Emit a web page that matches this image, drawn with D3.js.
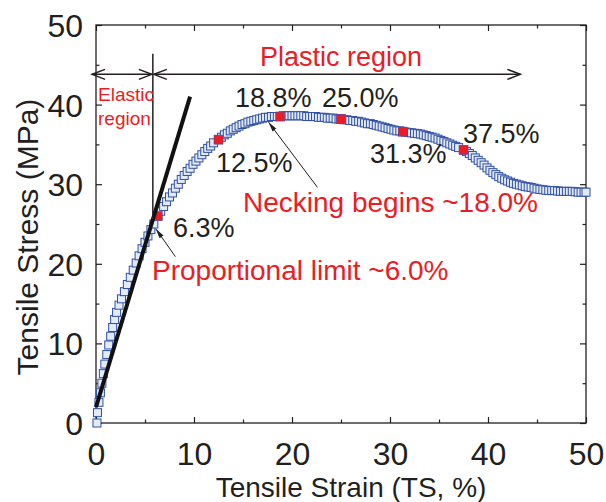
<!DOCTYPE html>
<html>
<head>
<meta charset="utf-8">
<script src="https://cdn.jsdelivr.net/npm/d3@7/dist/d3.min.js"></script>
<style>
  html, body { margin: 0; padding: 0; background: #fff; }
  svg { display: block; font-family: "Liberation Sans", Arial, Helvetica, sans-serif; }
</style>
</head>
<body>
<svg id="chart" width="606" height="502"></svg>
<script>
// Tensile test curve: strain (%) and stress (MPa)
const strain = [0.1, 0.15, 0.3, 0.45, 0.6, 0.75, 0.9, 1.1, 1.3, 1.5, 1.7, 1.9, 2.1, 2.35, 2.6, 2.9, 3.2, 3.5, 3.8, 4.1,
  4.4, 4.7, 5.0, 5.3, 5.6, 5.9, 6.3, 6.6, 6.9, 7.2, 7.5, 7.8, 8.1, 8.4, 8.7, 9.0, 9.3, 9.6, 9.9, 10.2,
  10.5, 10.8, 11.1, 11.4, 11.7, 12.0, 12.5, 12.8, 13.1, 13.4, 13.7, 14.0, 14.3, 14.6, 14.9, 15.2, 15.5, 15.8, 16.1, 16.4,
  16.7, 17.0, 17.3, 17.6, 17.9, 18.2, 18.5, 18.8, 19.1, 19.4, 19.7, 20.0, 20.3, 20.6, 20.9, 21.2, 21.5, 21.8, 22.1, 22.4,
  22.7, 23.0, 23.3, 23.6, 23.9, 24.2, 24.5, 24.8, 25.0, 25.3, 25.6, 25.9, 26.2, 26.5, 26.8, 27.1, 27.4, 27.7, 28.0, 28.3,
  28.6, 28.9, 29.2, 29.5, 29.8, 30.1, 30.4, 30.7, 31.0, 31.3, 31.6, 31.9, 32.2, 32.5, 32.8, 33.1, 33.4, 33.7, 34.0, 34.3,
  34.6, 34.9, 35.2, 35.5, 35.8, 36.1, 36.4, 36.7, 37.0, 37.5, 37.8, 38.1, 38.4, 38.7, 39.0, 39.3, 39.6, 39.9, 40.2, 40.5,
  40.8, 41.1, 41.4, 41.7, 42.0, 42.3, 42.6, 42.9, 43.2, 43.5, 43.8, 44.1, 44.4, 44.7, 45.0, 45.3, 45.6, 45.9, 46.2, 46.5,
  46.8, 47.1, 47.4, 47.7, 48.0, 48.3, 48.6, 48.9, 49.2, 49.5, 49.8, 50.0];
const stress = [0.0, 1.3, 2.6, 3.8, 5.0, 6.2, 7.4, 8.6, 9.8, 10.9, 12.0, 13.0, 13.9, 14.8, 15.6, 16.5, 17.4, 18.3, 19.2, 20.1,
  21.0, 21.9, 22.7, 23.5, 24.3, 25.0, 26.0, 26.6, 27.2, 27.8, 28.4, 28.9, 29.5, 30.0, 30.6, 31.1, 31.6, 32.0, 32.5, 32.9,
  33.3, 33.7, 34.1, 34.5, 34.8, 35.2, 35.6, 35.9, 36.2, 36.4, 36.7, 36.9, 37.1, 37.3, 37.5, 37.6, 37.8, 37.9, 38.0, 38.1,
  38.2, 38.3, 38.4, 38.4, 38.5, 38.5, 38.5, 38.5, 38.6, 38.6, 38.6, 38.6, 38.6, 38.6, 38.6, 38.6, 38.5, 38.5, 38.5, 38.5,
  38.4, 38.4, 38.4, 38.3, 38.3, 38.3, 38.2, 38.2, 38.2, 38.1, 38.1, 38.0, 38.0, 37.9, 37.9, 37.8, 37.7, 37.6, 37.6, 37.5,
  37.4, 37.3, 37.2, 37.1, 37.0, 36.9, 36.8, 36.7, 36.7, 36.6, 36.55, 36.5, 36.45, 36.4, 36.35, 36.3, 36.2, 36.1, 36.0, 35.9,
  35.8, 35.65, 35.5, 35.35, 35.2, 35.05, 34.9, 34.75, 34.6, 34.3, 34.1, 33.85, 33.6, 33.3, 33.0, 32.7, 32.4, 32.05, 31.75, 31.45,
  31.2, 30.95, 30.75, 30.55, 30.4, 30.25, 30.1, 30.0, 29.9, 29.8, 29.7, 29.65, 29.6, 29.5, 29.4, 29.35, 29.3, 29.25, 29.2, 29.2,
  29.2, 29.15, 29.1, 29.1, 29.1, 29.1, 29.1, 29.05, 29.0, 29.0, 29.0, 29.0];

// Highlighted sample points
const markStrain = [6.3, 12.5, 18.8, 25.0, 31.3, 37.5];
const markStress = [26.0, 35.6, 38.5, 38.2, 36.6, 34.3];
const markLabels = ["6.3%", "12.5%", "18.8%", "25.0%", "31.3%", "37.5%"];

// Linear fit of the elastic part
const fitStrain = [0.0, 9.6];
const fitStress = [2.0, 41.0];

const xTicks = [0, 10, 20, 30, 40, 50];
const yTicks = [0, 10, 20, 30, 40, 50];

const RED = "#ec1c24";
const INK = "#231f20";

const svg = d3.select("#chart");
const x = d3.scaleLinear().domain([0, 50]).range([96, 586]);
const y = d3.scaleLinear().domain([0, 50]).range([423, 25]);

const defs = svg.append("defs");
defs.append("marker").attr("id", "tip")
  .attr("viewBox", "0 0 10 6").attr("refX", 10).attr("refY", 3)
  .attr("markerWidth", 10).attr("markerHeight", 6).attr("markerUnits", "userSpaceOnUse")
  .attr("orient", "auto")
  .append("path").attr("d", "M0,0.6 L10,3 L0,5.4 Z").attr("fill", INK);

// Axes with inward ticks on all four sides
const minor = d3.range(5, 50, 10);
function tickAxis(axisFn, scale, translate, values, labels) {
  const gMaj = svg.append("g").attr("transform", translate)
    .call(axisFn(scale).tickValues(values).tickSize(-6).tickFormat(labels ? d3.format("d") : ""));
  const gMin = svg.append("g").attr("transform", translate)
    .call(axisFn(scale).tickValues(minor).tickSize(-3.5).tickFormat(""));
  [gMaj, gMin].forEach(g => {
    g.select(".domain").remove();
    g.selectAll(".tick line").attr("stroke", INK).attr("stroke-width", 1.2);
  });
  return gMaj;
}
const gx = tickAxis(d3.axisBottom, x, "translate(0,423)", xTicks, true);
gx.selectAll(".tick text").attr("y", 0).attr("dy", 0)
  .attr("transform", "translate(0,42)")
  .attr("font-size", 32).attr("fill", INK).attr("font-family", "Liberation Sans, Arial, sans-serif");
tickAxis(d3.axisTop, x, "translate(0,25)", xTicks, false);
const gy = tickAxis(d3.axisLeft, y, "translate(96,0)", yTicks, true);
gy.selectAll(".tick text").attr("x", -13).attr("dy", "0.36em")
  .attr("font-size", 32).attr("fill", INK).attr("font-family", "Liberation Sans, Arial, sans-serif");
tickAxis(d3.axisRight, y, "translate(586,0)", yTicks, false);

svg.append("rect")
  .attr("x", x(0)).attr("y", y(50))
  .attr("width", x(50) - x(0)).attr("height", y(0) - y(50))
  .attr("fill", "none").attr("stroke", INK).attr("stroke-width", 1.3);

// Axis titles
svg.append("text").attr("x", 351).attr("y", 497).attr("text-anchor", "middle")
  .attr("font-size", 28).attr("fill", INK).text("Tensile Strain (TS, %)");
svg.append("text").attr("transform", "translate(38,237) rotate(-90)").attr("text-anchor", "middle")
  .attr("font-size", 30).attr("fill", INK).text("Tensile Stress (MPa)");

// Measured curve as open squares
const pts = strain.map((s, i) => ({ s, p: stress[i] }));
const sq = 8;
svg.append("g").selectAll("rect").data(pts).join("rect")
  .attr("x", d => x(d.s) - sq / 2).attr("y", d => y(d.p) - sq / 2)
  .attr("width", sq).attr("height", sq)
  .attr("fill", "#e4eaf7").attr("stroke", "#2e50a6").attr("stroke-width", 1);

// Highlighted points
const marks = markStrain.map((s, i) => ({ s, p: markStress[i], label: markLabels[i] }));
svg.append("g").selectAll("rect").data(marks).join("rect")
  .attr("x", d => x(d.s) - 4.5).attr("y", d => y(d.p) - 4.5)
  .attr("width", 9).attr("height", 9)
  .attr("fill", RED).attr("stroke", "#5a4aa0").attr("stroke-width", 0.6);

// Elastic fit line
svg.append("line")
  .attr("x1", x(fitStrain[0])).attr("y1", y(fitStress[0]))
  .attr("x2", x(fitStrain[1])).attr("y2", y(fitStress[1]))
  .attr("stroke", "#111").attr("stroke-width", 4).attr("stroke-linecap", "butt");

// Region boundary and double arrows
const bound = 5.8;
const arrowY = y(43.8);
svg.append("line").attr("x1", x(bound)).attr("x2", x(bound))
  .attr("y1", y(46.4)).attr("y2", y(25.6))
  .attr("stroke", INK).attr("stroke-width", 1.5);
function chevron(xTip, dir) {
  svg.append("path")
    .attr("d", `M${xTip + dir * 13},${arrowY - 5} L${xTip},${arrowY} L${xTip + dir * 13},${arrowY + 5}`)
    .attr("fill", "none").attr("stroke", INK).attr("stroke-width", 1.5);
}
const xl = x(-0.4), xm = x(bound), xr = x(43.3);
svg.append("line").attr("x1", xl).attr("x2", xm - 1).attr("y1", arrowY).attr("y2", arrowY)
  .attr("stroke", INK).attr("stroke-width", 1.5);
svg.append("line").attr("x1", xm + 1).attr("x2", xr).attr("y1", arrowY).attr("y2", arrowY)
  .attr("stroke", INK).attr("stroke-width", 1.5);
chevron(xl, 1); chevron(xm - 1, -1); chevron(xm + 1, 1); chevron(xr, -1);

// Region labels
svg.append("text").attr("x", 98).attr("y", 101).attr("font-size", 19).attr("fill", RED).text("Elastic");
svg.append("text").attr("x", 98).attr("y", 125).attr("font-size", 19).attr("fill", RED).text("region");
svg.append("text").attr("x", 341).attr("y", 66).attr("text-anchor", "middle")
  .attr("font-size", 27).attr("fill", RED).text("Plastic region");

// Value labels next to the highlighted points
const labelPos = [[173, 237], [216, 172], [235, 107], [322, 107], [370, 163], [463, 143]];
svg.append("g").selectAll("text").data(marks).join("text")
  .attr("x", (d, i) => labelPos[i][0]).attr("y", (d, i) => labelPos[i][1])
  .attr("font-size", 27).attr("fill", INK).text(d => d.label);

// Pointer arrows
svg.append("line").attr("x1", x(8.1)).attr("y1", y(20.9)).attr("x2", x(6.1)).attr("y2", y(24.4))
  .attr("stroke", INK).attr("stroke-width", 1).attr("marker-end", "url(#tip)");
svg.append("line").attr("x1", x(22.6)).attr("y1", y(29.6)).attr("x2", x(17.6)).attr("y2", y(37.8))
  .attr("stroke", INK).attr("stroke-width", 1).attr("marker-end", "url(#tip)");

svg.append("text").attr("x", 243).attr("y", 212).attr("font-size", 28).attr("fill", RED)
  .text("Necking begins ~18.0%");
svg.append("text").attr("x", 152).attr("y", 280).attr("font-size", 28).attr("fill", RED)
  .text("Proportional limit ~6.0%");
</script>
</body>
</html>
